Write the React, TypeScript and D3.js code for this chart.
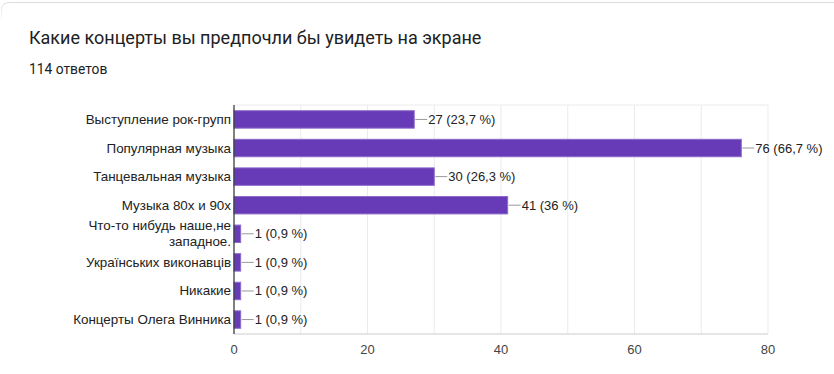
import React from 'react';
import * as d3 from 'd3';

const categories = [
  'Выступление рок-групп',
  'Популярная музыка',
  'Танцевальная музыка',
  'Музыка 80х и 90х',
  'Что-то нибудь наше,не западное.',
  'Українських виконавців',
  'Никакие',
  'Концерты Олега Винника',
];
const counts = [27, 76, 30, 41, 1, 1, 1, 1];
const percents = ['23,7', '66,7', '26,3', '36', '0,9', '0,9', '0,9', '0,9'];
// wrapped label lines where the original chart breaks the text
const labelLines: Record<string, string[]> = {
  'Что-то нибудь наше,не западное.': ['Что-то нибудь наше,не', 'западное.'],
};
const tickValues = [0, 20, 40, 60, 80];
const gridValues = d3.range(0, 81, 10);

const W = 834;
const H = 374;
const plot = { left: 234, right: 768, top: 105, bottom: 334 };

export default function App() {
  const x = d3.scaleLinear().domain([0, 80]).range([plot.left, plot.right]);
  const y = d3.scaleBand().domain(categories).range([plot.top, plot.bottom]).paddingInner(0.39).paddingOuter(0.2);
  const font = 'Arial, "Liberation Sans", sans-serif';

  return (
    <div style={{ position: 'absolute', left: 0, top: 0 }}>
      <svg width={W} height={H} style={{ display: 'block' }}>
        <defs>
          <linearGradient id="edgeFade" x1="0" y1="0" x2="0" y2="1">
            <stop offset="0" stopColor="#dadce0" />
            <stop offset="1" stopColor="#ffffff" />
          </linearGradient>
        </defs>
        <rect x={0} y={0} width={W} height={H} fill="#ffffff" />
        {/* card top edge with rounded corner fading down the left side */}
        <path d={`M10,2.5 H${W}`} stroke="#dadce0" fill="none" />
        <path d="M1.5,22 V10 Q1.5,2.5 10,2.5" stroke="url(#edgeFade)" fill="none" />
        <text x={29} y={44} fontFamily="Roboto, Arial, sans-serif" fontSize={18} fill="#202124">
          Какие концерты вы предпочли бы увидеть на экране
        </text>
        <text x={29} y={74} fontFamily="Roboto, Arial, sans-serif" fontSize={13.8} fill="#202124">
          114 ответов
        </text>

        {gridValues.map(v => (
          <line key={'g' + v} x1={x(v)} x2={x(v)} y1={plot.top} y2={plot.bottom} stroke="#ebebeb" />
        ))}
        <line x1={plot.left} x2={plot.right} y1={plot.top} y2={plot.top} stroke="#ebebeb" />
        <line x1={plot.left} x2={plot.right} y1={plot.bottom} y2={plot.bottom} stroke="#cccccc" />

        {categories.map((c, i) => {
          const y0 = y(c) as number;
          const bh = y.bandwidth();
          const cy = y0 + bh / 2;
          const xe = x(counts[i]);
          const lines = labelLines[c] || [c];
          return (
            <g key={c}>
              <rect x={plot.left} y={y0} width={xe - plot.left} height={bh} fill="#673ab7" stroke="#8c6bc9" strokeWidth={1} />
              <line x1={xe + 1} x2={xe + 13} y1={cy} y2={cy} stroke="#999999" />
              <text x={xe + 14} y={cy + 4.5} fontFamily={font} fontSize={13} fill="#222222">
                {`${counts[i]} (${percents[i]} %)`}
              </text>
              {lines.map((l, j) => (
                <text
                  key={j}
                  x={plot.left - 3}
                  y={cy + 4.5 + (j - (lines.length - 1) / 2) * 16}
                  textAnchor="end"
                  fontFamily={font}
                  fontSize={13.4}
                  fill="#222222"
                >
                  {l}
                </text>
              ))}
            </g>
          );
        })}

        <line x1={plot.left} x2={plot.left} y1={plot.top} y2={plot.bottom} stroke="#333333" strokeWidth={1.2} />

        {tickValues.map(v => (
          <text key={'t' + v} x={x(v)} y={plot.bottom + 20} textAnchor="middle" fontFamily={font} fontSize={13} fill="#444444">
            {v}
          </text>
        ))}
      </svg>
    </div>
  );
}
